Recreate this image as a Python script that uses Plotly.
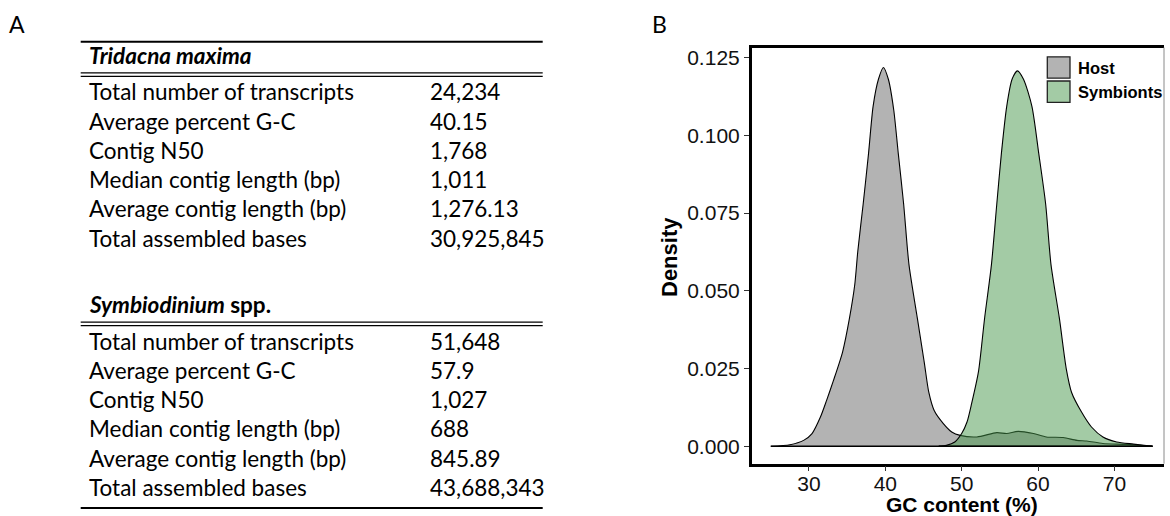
import plotly.graph_objects as go

# ---------------- Panel A: assembly statistics table ----------------
table_titles = ["<b><i>Tridacna maxima</i></b>", "<b><i>Symbiodinium</i> spp.</b>"]
row_labels = ["Total number of transcripts", "Average percent G-C", "Contig N50",
              "Median contig length (bp)", "Average contig length (bp)", "Total assembled bases"]
tridacna_values = ["24,234", "40.15", "1,768", "1,011", "1,276.13", "30,925,845"]
symbiodinium_values = ["51,648", "57.9", "1,027", "688", "845.89", "43,688,343"]

# ---------------- Panel B: GC content density ----------------
series_names = ["Host", "Symbionts"]
host_x = [25.0, 27.5, 29.3, 30.4, 31.5, 32.3, 33.2, 34.4, 35.3, 36.0, 36.4, 37.1, 37.8,
          38.4, 39.1, 39.75, 40.4, 41.1, 41.7, 42.4, 43.1, 44.2, 45.1, 45.7, 46.4, 47.6,
          48.7, 49.8, 52.0, 54.6, 55.9, 57.4, 59.4, 61.1, 63.3, 65.1, 66.4, 68.5, 71.6, 75.0]
host_y = [0.0, 0.0005, 0.0019, 0.0041, 0.0094, 0.0147, 0.0211, 0.0303, 0.0411, 0.052,
          0.0628, 0.0779, 0.0941, 0.1093, 0.118, 0.1218, 0.118, 0.1082, 0.0941, 0.0779,
          0.0584, 0.0411, 0.027, 0.0173, 0.0115, 0.0073, 0.0046, 0.0035, 0.003, 0.0044,
          0.0041, 0.0048, 0.0041, 0.003, 0.0028, 0.0019, 0.0017, 0.0009, 0.0006, 0.0]
sym_x = [47.0, 48.0, 49.1, 50.0, 50.7, 51.3, 52.2, 53.0, 53.9, 54.6, 55.2, 55.9, 56.6,
         57.3, 58.1, 59.2, 60.1, 61.0, 61.7, 62.8, 63.7, 64.4, 65.7, 67.0, 68.5, 70.3,
         72.5, 75.0]
sym_y = [0.0, 0.0003, 0.0014, 0.0041, 0.0078, 0.0137, 0.024, 0.0411, 0.0584, 0.0779,
         0.0941, 0.1093, 0.118, 0.1207, 0.118, 0.1093, 0.0941, 0.0779, 0.0584, 0.0411,
         0.0249, 0.0173, 0.011, 0.0062, 0.003, 0.0014, 0.0007, 0.0]
x_ticks = [30, 40, 50, 60, 70]
y_ticks = [0.0, 0.025, 0.05, 0.075, 0.1, 0.125]

# ---------------- layout helpers (pixel -> paper) ----------------
W, H = 1170, 516
def px(x):
    return x / W
def py(y):
    return 1 - y / H

PLOT_L, PLOT_R, PLOT_T, PLOT_B = 751.7, 1164.0, 45.7, 463.5

host_fill = "#b3b3b3"
sym_fill = "rgba(71,151,75,0.5)"
sym_legend = "#a3cba5"

fig = go.Figure()
fills = [host_fill, sym_fill]
for name, xs, ys, fc in [(series_names[0], host_x, host_y, fills[0]),
                         (series_names[1], sym_x, sym_y, fills[1])]:
    fig.add_trace(go.Scatter(x=xs, y=ys, mode="lines", name=name, fill="tozeroy",
                             fillcolor=fc,
                             line=dict(color="black", width=1.1, shape="spline", smoothing=0.7),
                             showlegend=False, hoverinfo="skip"))
    fig.add_trace(go.Scatter(x=[xs[0], xs[-1]], y=[0, 0], mode="lines",
                             line=dict(color="black", width=1.6),
                             showlegend=False, hoverinfo="skip"))

tick_font = dict(family="Liberation Sans, Arial", size=21, color="#111111")
fig.update_layout(
    width=W, height=H, autosize=False,
    margin=dict(l=0, r=0, t=0, b=0, pad=0),
    paper_bgcolor="white", plot_bgcolor="rgba(0,0,0,0)",
    showlegend=False,
    xaxis=dict(domain=[px(PLOT_L), px(PLOT_R)], range=[22.5, 76.5], tickvals=x_ticks,
               showline=True, linecolor="black", linewidth=2.5, mirror=True,
               ticks="outside", ticklen=5, tickwidth=1, tickcolor="#333333",
               ticklabelstandoff=-6,
               tickfont=tick_font, showgrid=False, zeroline=False, fixedrange=True),
    yaxis=dict(domain=[1 - PLOT_B / H, 1 - PLOT_T / H], range=[-0.0056, 0.1282],
               tickvals=y_ticks, tickformat=".3f",
               showline=True, linecolor="black", linewidth=2.5,
               ticks="outside", ticklen=5, tickwidth=1, tickcolor="#333333",
               tickfont=tick_font, showgrid=False, zeroline=False, fixedrange=True),
)

shapes = []
annotations = []

# right panel border
shapes.append(dict(type="line", xref="x domain", yref="y domain", x0=1, x1=1, y0=0, y1=1,
                   line=dict(color="#8a8a8a", width=1)))

# axis titles
title_font = dict(family="Liberation Sans, Arial", size=22, color="black")
annotations.append(dict(text="<b>Density</b>", xref="paper", yref="paper", x=px(669),
                        y=py(256), textangle=-90, showarrow=False, font=title_font,
                        xanchor="center", yanchor="middle"))
annotations.append(dict(text="<b>GC content (%)</b>", xref="paper", yref="paper", x=px(962),
                        y=py(504), showarrow=False,
                        font=dict(family="Liberation Sans, Arial", size=21, color="black"),
                        xanchor="center", yanchor="middle"))

# legend (drawn manually to match the large keys)
legend_font = dict(family="Liberation Sans, Arial", size=16.5, color="black")
legend_fills = [host_fill, sym_legend]
for i, name in enumerate(series_names):
    y0 = 55 + i * 24.3
    shapes.append(dict(type="rect", xref="paper", yref="paper",
                       x0=px(1047.3), x1=px(1070), y0=py(y0), y1=py(y0 + 21.5),
                       fillcolor=legend_fills[i], line=dict(color="#222222", width=1.3)))
    annotations.append(dict(text="<b>" + name + "</b>", xref="paper", yref="paper",
                            x=px(1075.5), y=py(y0 + 10.8), showarrow=False, font=legend_font,
                            xanchor="left", yanchor="middle"))

# panel letters
letter_font = dict(family="Lato", size=23, color="black")
annotations.append(dict(text="A", xref="paper", yref="paper", x=px(17), y=py(22),
                        showarrow=False, font=letter_font, xanchor="center", yanchor="middle"))
annotations.append(dict(text="B", xref="paper", yref="paper", x=px(659), y=py(22.5),
                        showarrow=False, font=letter_font, xanchor="center", yanchor="middle"))

# table
FS = 22.5
table_font = dict(family="Lato", size=FS, color="black")
RULE_X0, RULE_X1 = 80.7, 542.7
LABEL_X, VALUE_X = 86.7, 428.3
ROW_STEP = 29.4

def hline(y, w):
    shapes.append(dict(type="line", xref="paper", yref="paper", x0=px(RULE_X0), x1=px(RULE_X1),
                       y0=py(y), y1=py(y), line=dict(color="black", width=w)))

def text(t, x, baseline):
    annotations.append(dict(text=t, xref="paper", yref="paper", x=px(x),
                            y=py(baseline - 0.36 * FS), showarrow=False, font=table_font,
                            xanchor="left", yanchor="middle"))

blocks = [(table_titles[0], tridacna_values, 0.0), (table_titles[1], symbiodinium_values, 250.2)]
hline(40.0, 2)
for title, vals, off in blocks:
    text(title, LABEL_X, 61.6 + off)
    hline(71.2 + off, 1.3)
    hline(74.6 + off, 1.3)
    for k, (lab, val) in enumerate(zip(row_labels, vals)):
        base = 98.3 + off + k * ROW_STEP
        text(lab, LABEL_X, base)
        text(val, VALUE_X, base)
hline(508.0, 2)

fig.update_layout(shapes=shapes, annotations=annotations)
fig.write_html("out.html", config={"displayModeBar": False},
               post_script="document.body.style.margin='0';document.body.style.overflow='hidden';")
